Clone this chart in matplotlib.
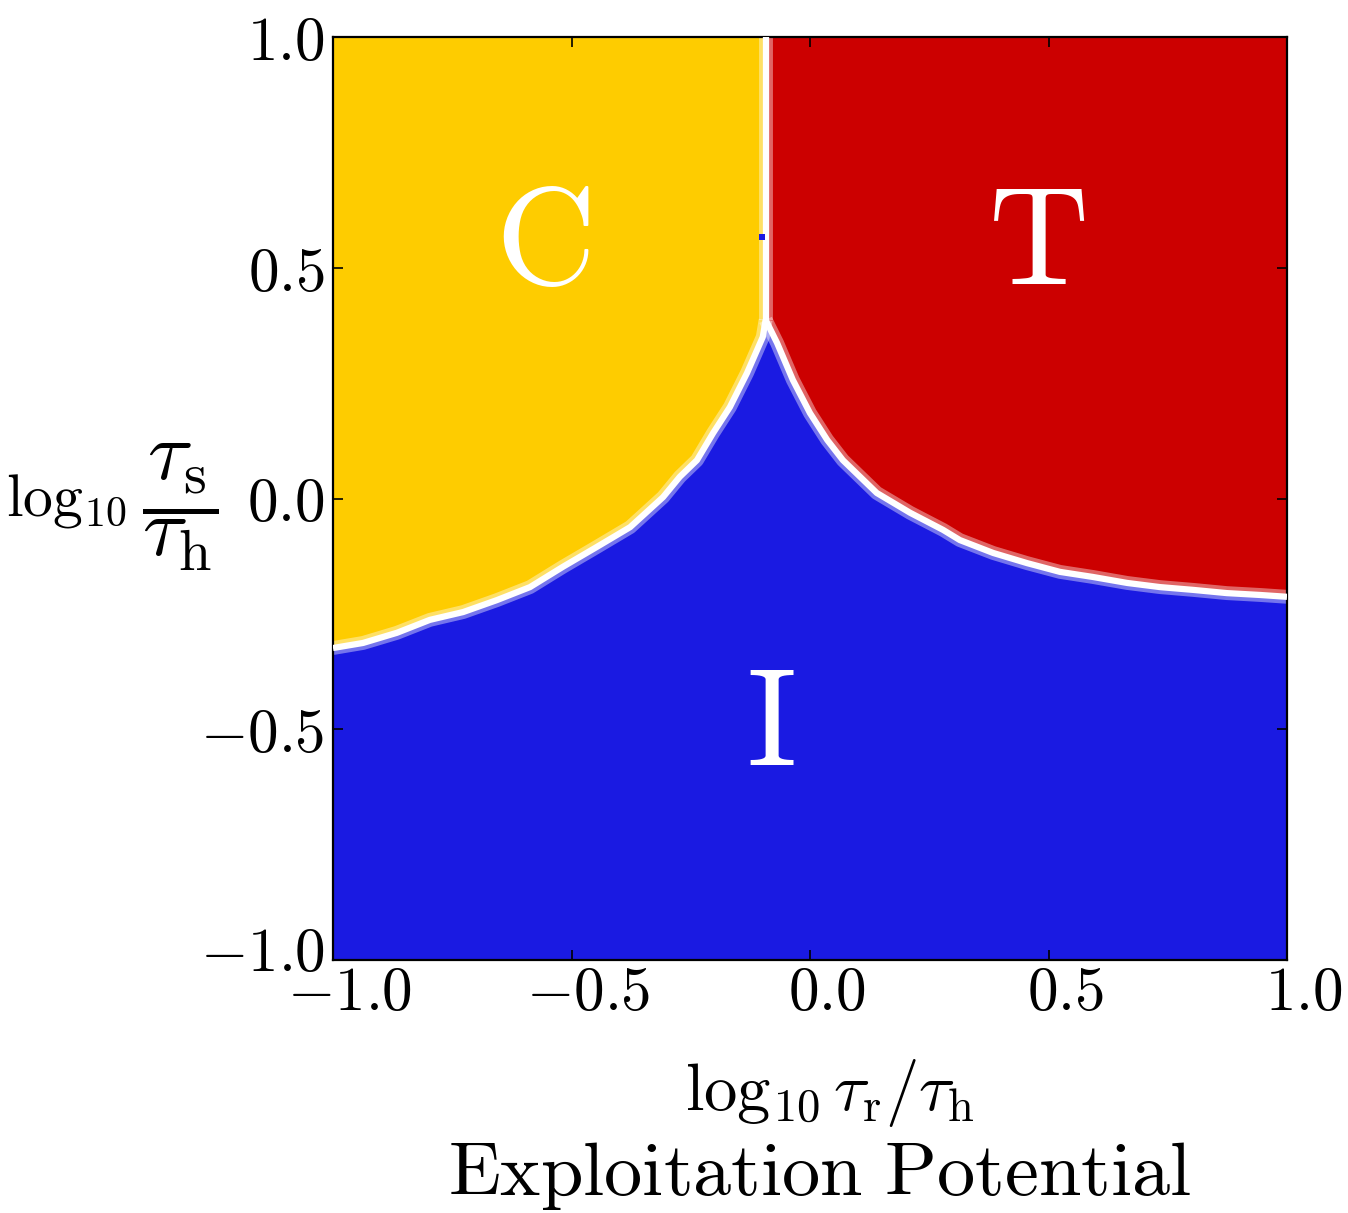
import numpy as np
import matplotlib
matplotlib.use("Agg")
import matplotlib.pyplot as plt
import matplotlib.transforms as mtransforms
from matplotlib.ticker import FuncFormatter

plt.rcParams['mathtext.fontset'] = 'cm'

# ---------------- phase boundaries ----------------
# C / I boundary (top of the blue region, left part)
ci_x = [-1.0, -0.937, -0.866, -0.797, -0.727, -0.656, -0.587, -0.518, -0.447,
        -0.377, -0.308, -0.273, -0.237, -0.203, -0.168, -0.132, -0.099, -0.093]
ci_y = [-0.324, -0.313, -0.291, -0.263, -0.246, -0.220, -0.192, -0.148, -0.105,
        -0.062, 0.003, 0.047, 0.083, 0.142, 0.198, 0.272, 0.350, 0.387]

# T / I boundary (top of the blue region, right part)
ti_x = [-0.093, -0.069, -0.036, 0.0, 0.036, 0.069, 0.105, 0.140, 0.21, 0.279,
        0.314, 0.384, 0.455, 0.524, 0.593, 0.665, 0.734, 0.803, 0.874, 0.943, 1.0]
ti_y = [0.387, 0.337, 0.257, 0.185, 0.127, 0.083, 0.047, 0.012, -0.031, -0.068,
        -0.090, -0.118, -0.140, -0.159, -0.170, -0.183, -0.192, -0.198, -0.205,
        -0.209, -0.213]

# C / T divider (vertical)
ct_x = [-0.093, -0.093]
ct_y = [0.387, 1.0]

# stray blue cell on the C/T divider
stray_x = [-0.1]
stray_y = [0.567]

# region labels
region_names = ["C", "T", "I"]
region_x = [-0.562, 0.476, -0.084]
region_y = [0.549, 0.55, -0.491]

ticks = [-1.0, -0.5, 0.0, 0.5, 1.0]

col_c = "#fecc00"
col_t = "#cc0000"
col_i = "#1a1ae2"

# ---------------- figure ----------------
fig = plt.figure(figsize=(13.48, 12.13), dpi=100)
ax = fig.add_axes([333/1348, 253/1213, 954/1348, 923/1213])
ax.set_facecolor(col_i)

ax.fill_between(ci_x, ci_y, 1.0, color=col_c, lw=0, zorder=1)
ax.fill_between(ti_x, ti_y, 1.0, color=col_t, lw=0, zorder=1)

# soft white edges
for xs, ys in [(ci_x, ci_y), (ti_x, ti_y), (ct_x, ct_y)]:
    ax.plot(xs, ys, color="white", lw=10, alpha=0.4, zorder=2,
            solid_capstyle="butt", solid_joinstyle="round")
    ax.plot(xs, ys, color="white", lw=4.5, zorder=3,
            solid_capstyle="butt", solid_joinstyle="round")

ax.scatter(stray_x, stray_y, marker="s", s=18, color=col_i, lw=0, zorder=4)

for name, x, y in zip(region_names, region_x, region_y):
    ax.text(x, y, r"$\mathrm{%s}$" % name, color="white", fontsize=100,
            ha="center", va="center", zorder=5)

ax.set_xlim(-1, 1)
ax.set_ylim(-1, 1)
ax.set_xticks(ticks)
ax.set_yticks(ticks)
fmt = FuncFormatter(lambda v, p: r"$%.1f$" % v)
ax.xaxis.set_major_formatter(fmt)
ax.yaxis.set_major_formatter(fmt)
ax.tick_params(direction="in", length=7, width=1.2, top=True, right=True,
               labelsize=44)
ax.tick_params(axis="x", pad=3)
ax.tick_params(axis="y", pad=6)
for s in ax.spines.values():
    s.set_linewidth(1.6)

# x tick labels sit a bit to the right of their ticks in the original
shift_x = mtransforms.ScaledTranslation(17/100, 0, fig.dpi_scale_trans)
for lab in ax.get_xticklabels():
    lab.set_transform(lab.get_transform() + shift_x)
# lowest y tick label sits a little higher
shift_y = mtransforms.ScaledTranslation(0, 12/100, fig.dpi_scale_trans)
ylab0 = ax.get_yticklabels()[0]
ylab0.set_transform(ylab0.get_transform() + shift_y)

ax.set_xlabel(r"$\log_{10}\tau_\mathrm{r}/\tau_\mathrm{h}$", fontsize=48, va="baseline")
ax.xaxis.set_label_coords(0.521, -0.1625)

# y label: log10 part + larger fraction part
ax.set_ylabel(r"$\log_{10}$", fontsize=43, rotation=0, ha="right", va="baseline")
ax.yaxis.set_label_coords((127 - 333) / 954, (960 - 515) / 923)
fig.text(180/1348, (1213 - 507)/1213,
         r"$\dfrac{\tau_\mathrm{s}}{\tau_\mathrm{h}}$", fontsize=60,
         ha="center", va="center")

fig.text(820/1348, 18/1213, r"$\mathrm{Exploitation\ Potential}$", fontsize=55,
         ha="center", va="baseline")

fig.savefig("out.png", dpi=100)
